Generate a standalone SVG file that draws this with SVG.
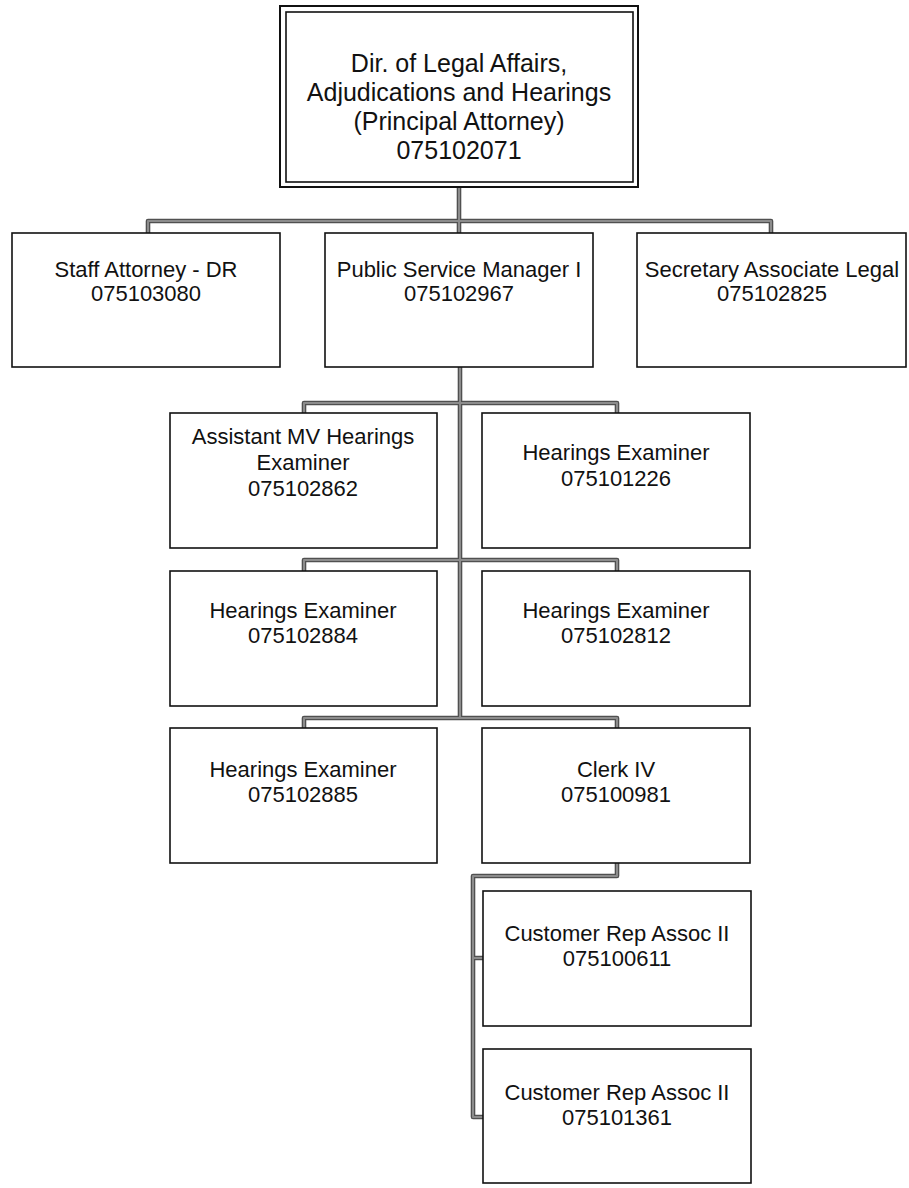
<svg xmlns="http://www.w3.org/2000/svg" width="909" height="1188" viewBox="0 0 909 1188">
<style>
  .box { fill: #ffffff; stroke: #111; stroke-width: 1.6; }
  .t { font-family: "Liberation Sans", Arial, sans-serif; font-size: 22px; fill: #111; text-anchor: middle; }
  .tt { font-family: "Liberation Sans", Arial, sans-serif; font-size: 25px; fill: #111; text-anchor: middle; }
  .co { fill: none; stroke: #505050; stroke-width: 4.6; stroke-linejoin: round; stroke-linecap: butt; }
  .ci { fill: none; stroke: #8c8c8c; stroke-width: 2; stroke-linejoin: round; stroke-linecap: butt; }
</style>
<defs>
  <path id="links" d="M459,187 V233 M148,233 V221 H771 V233 M460,367 V718 M304,413 V403 H617 V413 M304,571 V560 H617 V571 M304,728 V718 H617 V728 M617,863 V876 H473 V1117 H483 M473,958 H483"/>
</defs>
<rect width="909" height="1188" fill="#ffffff"/>
<g id="connectors">
  <use href="#links" class="co"/>
  <use href="#links" class="ci"/>
</g>
<g id="n-dir">
  <rect x="280" y="6" width="358" height="181" fill="#fff" stroke="#111" stroke-width="2"/>
  <rect x="286" y="12" width="347" height="170" fill="none" stroke="#111" stroke-width="1.6"/>
  <text class="tt" x="459" y="72">Dir. of Legal Affairs,</text>
  <text class="tt" x="459" y="101">Adjudications and Hearings</text>
  <text class="tt" x="459" y="130">(Principal Attorney)</text>
  <text class="tt" x="459" y="159">075102071</text>
</g>
<g id="n-staff">
  <rect class="box" x="12" y="233" width="268" height="134"/>
  <text class="t" x="146" y="277">Staff Attorney - DR</text>
  <text class="t" x="146" y="301">075103080</text>
</g>
<g id="n-psm">
  <rect class="box" x="325" y="233" width="268" height="134"/>
  <text class="t" x="459" y="277">Public Service Manager I</text>
  <text class="t" x="459" y="301">075102967</text>
</g>
<g id="n-sec">
  <rect class="box" x="637" y="233" width="269" height="134"/>
  <text class="t" x="772" y="277">Secretary Associate Legal</text>
  <text class="t" x="772" y="301">075102825</text>
</g>
<g id="n-asst">
  <rect class="box" x="170" y="413" width="267" height="135"/>
  <text class="t" x="303" y="444">Assistant MV Hearings</text>
  <text class="t" x="303" y="470">Examiner</text>
  <text class="t" x="303" y="496">075102862</text>
</g>
<g id="n-he1226">
  <rect class="box" x="482" y="413" width="268" height="135"/>
  <text class="t" x="616" y="460">Hearings Examiner</text>
  <text class="t" x="616" y="486">075101226</text>
</g>
<g id="n-he2884">
  <rect class="box" x="170" y="571" width="267" height="135"/>
  <text class="t" x="303" y="618">Hearings Examiner</text>
  <text class="t" x="303" y="643">075102884</text>
</g>
<g id="n-he2812">
  <rect class="box" x="482" y="571" width="268" height="135"/>
  <text class="t" x="616" y="618">Hearings Examiner</text>
  <text class="t" x="616" y="643">075102812</text>
</g>
<g id="n-he2885">
  <rect class="box" x="170" y="728" width="267" height="135"/>
  <text class="t" x="303" y="777">Hearings Examiner</text>
  <text class="t" x="303" y="802">075102885</text>
</g>
<g id="n-clerk">
  <rect class="box" x="482" y="728" width="268" height="135"/>
  <text class="t" x="616" y="777">Clerk IV</text>
  <text class="t" x="616" y="802">075100981</text>
</g>
<g id="n-cra0611">
  <rect class="box" x="483" y="891" width="268" height="135"/>
  <text class="t" x="617" y="941">Customer Rep Assoc II</text>
  <text class="t" x="617" y="966">075100611</text>
</g>
<g id="n-cra1361">
  <rect class="box" x="483" y="1049" width="268" height="134"/>
  <text class="t" x="617" y="1100">Customer Rep Assoc II</text>
  <text class="t" x="617" y="1125">075101361</text>
</g>
</svg>
